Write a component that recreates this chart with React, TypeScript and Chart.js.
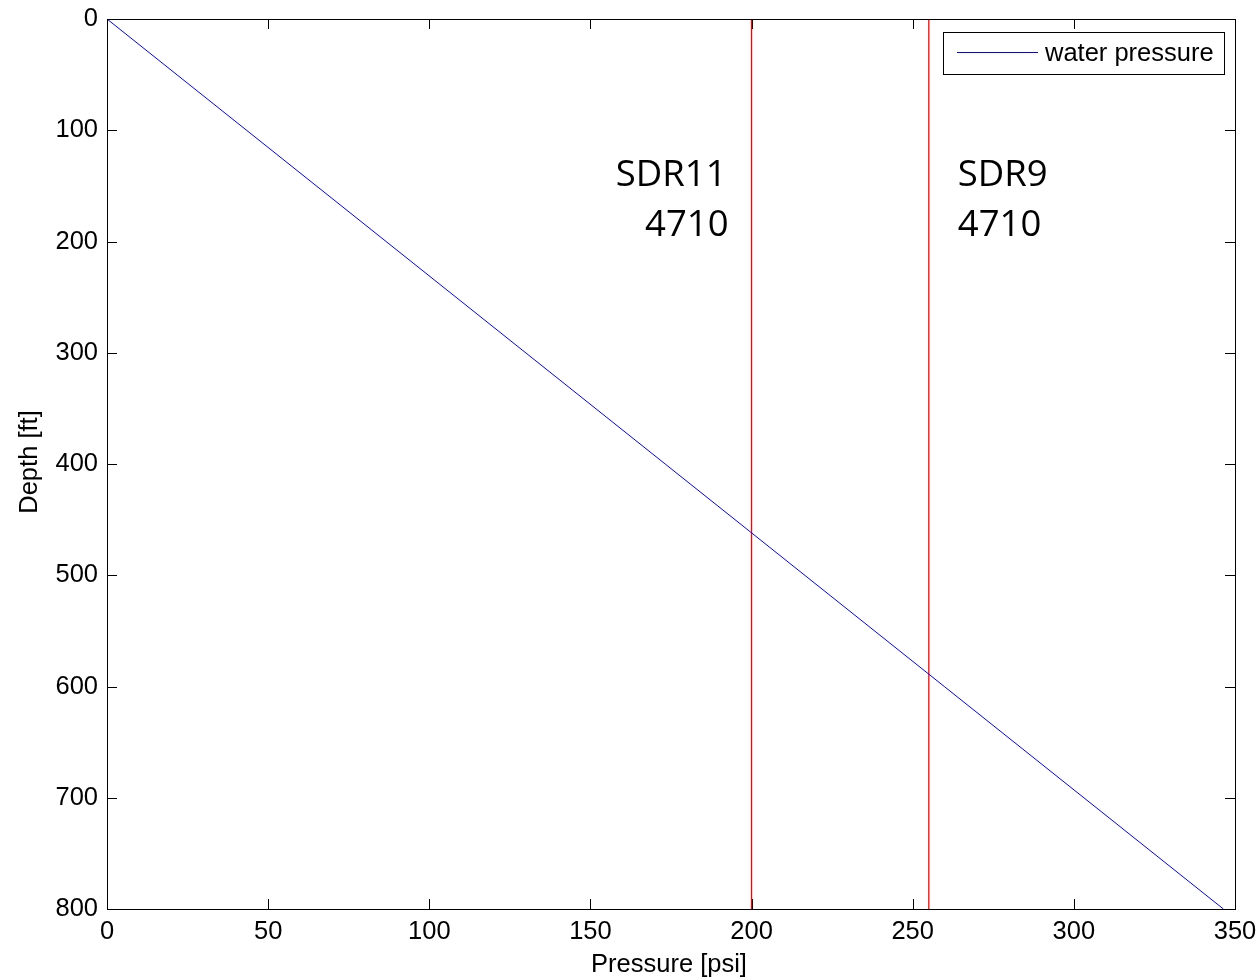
import React, { useEffect, useRef } from "react";
import { Chart, registerables } from "chart.js";

Chart.register(...registerables);

// Water pressure line: depth [ft] vs pressure [psi]
const depthFt = [0, 800];
const pressurePsi = [0, 346.4];
const seriesLabel = "water pressure";

// Pipe rating lines (pressure [psi]) and their labels
const sdrPressures = [200, 255];
const sdrNames = ["SDR11", "SDR9"];
const sdrCodes = ["4710", "4710"];

const xTicks = [0, 50, 100, 150, 200, 250, 300, 350];
const yTicks = [0, 100, 200, 300, 400, 500, 600, 700, 800];

const xTitle = "Pressure [psi]";
const yTitle = "Depth [ft]";

const TICK_FONT = "25.5px 'Liberation Sans', Arial, sans-serif";
const NOTE_FONT = "36.5px 'Open Sans', 'Noto Sans', sans-serif";

const overlay = {
  id: "overlay",
  beforeDatasetsDraw(chart: any) {
    const ctx = chart.ctx;
    const { left, right, top, bottom } = chart.chartArea;
    const xs = chart.scales.x;
    const ys = chart.scales.y;
    ctx.save();
    ctx.strokeStyle = "#000";
    ctx.lineWidth = 1;
    const tl = 10;
    ctx.beginPath();
    xTicks.forEach((v) => {
      const px = Math.round(xs.getPixelForValue(v)) + 0.5;
      ctx.moveTo(px, bottom);
      ctx.lineTo(px, bottom - tl);
      ctx.moveTo(px, top);
      ctx.lineTo(px, top + tl);
    });
    yTicks.forEach((v) => {
      const py = Math.round(ys.getPixelForValue(v)) + 0.5;
      ctx.moveTo(left, py);
      ctx.lineTo(left + tl, py);
      ctx.moveTo(right, py);
      ctx.lineTo(right - tl, py);
    });
    ctx.stroke();
    ctx.restore();
  },
  afterDraw(chart: any) {
    const ctx = chart.ctx;
    const { left, right, top, bottom } = chart.chartArea;
    const xs = chart.scales.x;
    ctx.save();
    // box
    ctx.strokeStyle = "#000";
    ctx.lineWidth = 1;
    ctx.strokeRect(Math.round(left) + 0.5, Math.round(top) + 0.5, Math.round(right - left), Math.round(bottom - top));

    // axis titles
    ctx.fillStyle = "#000";
    ctx.font = TICK_FONT;
    ctx.textAlign = "center";
    ctx.textBaseline = "middle";
    ctx.fillText(xTitle, (left + right) / 2 - 2, 965);
    ctx.save();
    ctx.translate(30, (top + bottom) / 2 - 2);
    ctx.rotate(-Math.PI / 2);
    ctx.fillText(yTitle, 0, 0);
    ctx.restore();

    // SDR annotations
    ctx.font = NOTE_FONT;
    ctx.textBaseline = "alphabetic";
    sdrPressures.forEach((p, i) => {
      const px = xs.getPixelForValue(p);
      if (i === 0) {
        ctx.textAlign = "right";
        ctx.fillText(sdrNames[i], px - 25, 186);
        ctx.fillText(sdrCodes[i], px - 23, 236);
      } else {
        ctx.textAlign = "left";
        ctx.fillText(sdrNames[i], px + 29, 186);
        ctx.fillText(sdrCodes[i], px + 29, 236);
      }
    });

    // legend
    const ds = chart.data.datasets[0];
    const bx = 943, by = 32, bw = 281, bh = 42;
    ctx.fillStyle = "#fff";
    ctx.fillRect(bx, by, bw, bh);
    ctx.strokeStyle = "#000";
    ctx.lineWidth = 1;
    ctx.strokeRect(bx + 0.5, by + 0.5, bw, bh);
    ctx.strokeStyle = ds.borderColor;
    ctx.beginPath();
    ctx.moveTo(957, by + 20.5);
    ctx.lineTo(1038, by + 20.5);
    ctx.stroke();
    ctx.fillStyle = "#000";
    ctx.font = TICK_FONT;
    ctx.textAlign = "left";
    ctx.textBaseline = "middle";
    ctx.fillText(ds.label, 1045, by + 22);
    ctx.restore();
  },
};

export default function App() {
  const ref = useRef<HTMLCanvasElement | null>(null);
  useEffect(() => {
    if (!ref.current) return;
    const waterData = depthFt.map((d, i) => ({ x: pressurePsi[i], y: d }));
    const sdrSets = sdrPressures.map((p, i) => ({
      label: sdrNames[i],
      data: [
        { x: p, y: 0 },
        { x: p, y: 800 },
      ],
      borderColor: "#ff0000",
      borderWidth: 1.3,
      pointRadius: 0,
      showLine: true,
      fill: false,
    }));
    const chart = new Chart(ref.current, {
      type: "scatter",
      data: {
        datasets: [
          {
            label: seriesLabel,
            data: waterData,
            borderColor: "#0000ff",
            borderWidth: 1,
            pointRadius: 0,
            showLine: true,
            fill: false,
          },
          ...sdrSets,
        ],
      },
      options: {
        animation: false,
        responsive: false,
        layout: { padding: { top: 19, right: 25, left: 0, bottom: 0 } },
        plugins: { legend: { display: false }, tooltip: { enabled: false } },
        scales: {
          x: {
            type: "linear",
            min: 0,
            max: 350,
            afterBuildTicks: (s: any) => {
              s.ticks = xTicks.map((v) => ({ value: v }));
            },
            afterFit: (s: any) => {
              s.height = 71;
              s.paddingLeft = 0;
              s.paddingRight = 0;
            },
            grid: { display: false },
            border: { display: false },
            ticks: {
              color: "#000",
              padding: 0,
              maxRotation: 0,
              autoSkip: false,
              font: { family: "'Liberation Sans', Arial, sans-serif", size: 25.5 },
            },
          },
          y: {
            type: "linear",
            reverse: true,
            min: 0,
            max: 800,
            afterBuildTicks: (s: any) => {
              s.ticks = yTicks.map((v) => ({ value: v }));
            },
            afterFit: (s: any) => {
              s.width = 107;
              s.paddingTop = 0;
              s.paddingBottom = 0;
            },
            grid: { display: false },
            border: { display: false },
            ticks: {
              color: "#000",
              padding: 1,
              autoSkip: false,
              font: { family: "'Liberation Sans', Arial, sans-serif", size: 25.5 },
            },
          },
        },
      },
      plugins: [overlay],
    } as any);
    return () => chart.destroy();
  }, []);
  return (
    <div style={{ position: "absolute", left: 0, top: 0, width: 1260, height: 980, background: "#fff" }}>
      <canvas ref={ref} width={1260} height={980} />
    </div>
  );
}
